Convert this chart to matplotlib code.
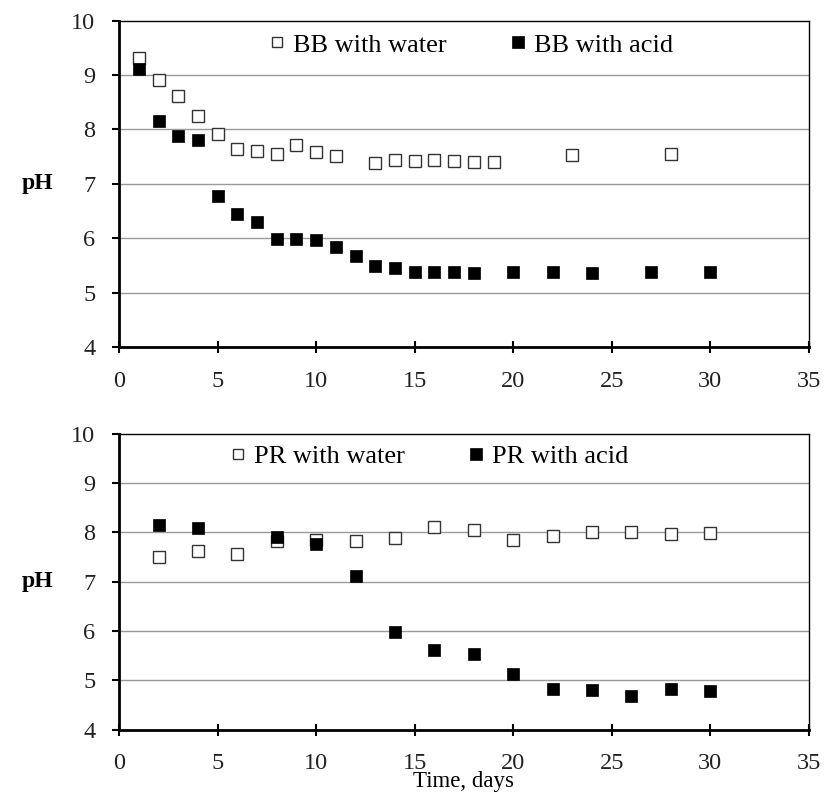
import matplotlib.pyplot as plt

plt.rcParams['font.family'] = ['Liberation Serif', 'DejaVu Serif']

# top panel: BB
bb_water_days = [1, 2, 3, 4, 5, 6, 7, 8, 9, 10, 11, 13, 14, 15, 16, 17, 18, 19, 23, 28]
bb_water_ph = [9.32, 8.90, 8.62, 8.24, 7.92, 7.64, 7.61, 7.55, 7.71, 7.59, 7.51,
               7.38, 7.44, 7.42, 7.43, 7.42, 7.40, 7.40, 7.53, 7.54]
bb_acid_days = [1, 2, 3, 4, 5, 6, 7, 8, 9, 10, 11, 12, 13, 14, 15, 16, 17, 18, 20, 22, 24, 27, 30]
bb_acid_ph = [9.12, 8.15, 7.87, 7.81, 6.77, 6.44, 6.30, 5.99, 5.99, 5.96, 5.83, 5.68,
              5.49, 5.46, 5.38, 5.38, 5.37, 5.36, 5.38, 5.37, 5.36, 5.37, 5.37]

# bottom panel: PR
pr_water_days = [2, 4, 6, 8, 10, 12, 14, 16, 18, 20, 22, 24, 26, 28, 30]
pr_water_ph = [7.49, 7.62, 7.55, 7.82, 7.84, 7.82, 7.88, 8.10, 8.04, 7.85, 7.93, 8.00, 8.01, 7.96, 7.99]
pr_acid_days = [2, 4, 8, 10, 12, 14, 16, 18, 20, 22, 24, 26, 28, 30]
pr_acid_ph = [8.14, 8.09, 7.91, 7.77, 7.11, 5.98, 5.62, 5.53, 5.12, 4.82, 4.80, 4.68, 4.82, 4.78]

fig = plt.figure(figsize=(8.27, 7.94), dpi=100)
ax1 = fig.add_axes([0.144, 0.563, 0.834, 0.411])
ax2 = fig.add_axes([0.144, 0.081, 0.834, 0.373])


def style_axes(ax):
    ax.set_xlim(0, 35)
    ax.set_ylim(4, 10)
    ax.set_xticks(range(0, 36, 5))
    ax.set_yticks(range(4, 11))
    for y in range(5, 10):
        ax.axhline(y, color='#9a9a9a', lw=1, zorder=0)
    ax.spines['left'].set_linewidth(2)
    ax.spines['bottom'].set_linewidth(2)
    ax.spines['top'].set_linewidth(1)
    ax.spines['right'].set_linewidth(1)
    ax.tick_params(axis='y', direction='out', length=5, width=1.5, pad=12,
                   labelsize=17.5, labelcolor='#222222')
    ax.tick_params(axis='x', direction='inout', length=8, width=1.5, pad=13,
                   labelsize=17.5, labelcolor='#222222')
    ax.set_ylabel('pH', fontsize=17, fontweight='bold', rotation=0, va='center')
    ax.yaxis.set_label_coords(-0.118, 0.5)


def plot_pair(ax, wd, wp, ad, ap, names, anchor):
    ax.plot(wd, wp, ls='none', marker='s', ms=8.5, mfc='white', mec='#333333', mew=1,
            label=names[0], zorder=3)
    ax.plot(ad, ap, ls='none', marker='s', ms=9, mfc='black', mec='black', mew=0.5,
            label=names[1], zorder=3)
    ax.legend(loc='center', bbox_to_anchor=anchor, ncol=2, frameon=False, fontsize=19,
              handlelength=0.6, handletextpad=0.3, columnspacing=2.4, markerscale=0.9)


plot_pair(ax1, bb_water_days, bb_water_ph, bb_acid_days, bb_acid_ph,
          ['BB with water', 'BB with acid'], (0.51, 0.926))
plot_pair(ax2, pr_water_days, pr_water_ph, pr_acid_days, pr_acid_ph,
          ['PR with water', 'PR with acid'], (0.45, 0.922))
style_axes(ax1)
style_axes(ax2)
ax2.set_xlabel('Time, days', fontsize=16.5, va='center')
ax2.xaxis.set_label_coords(0.5, -0.175)

fig.savefig('out.png', dpi=100)
